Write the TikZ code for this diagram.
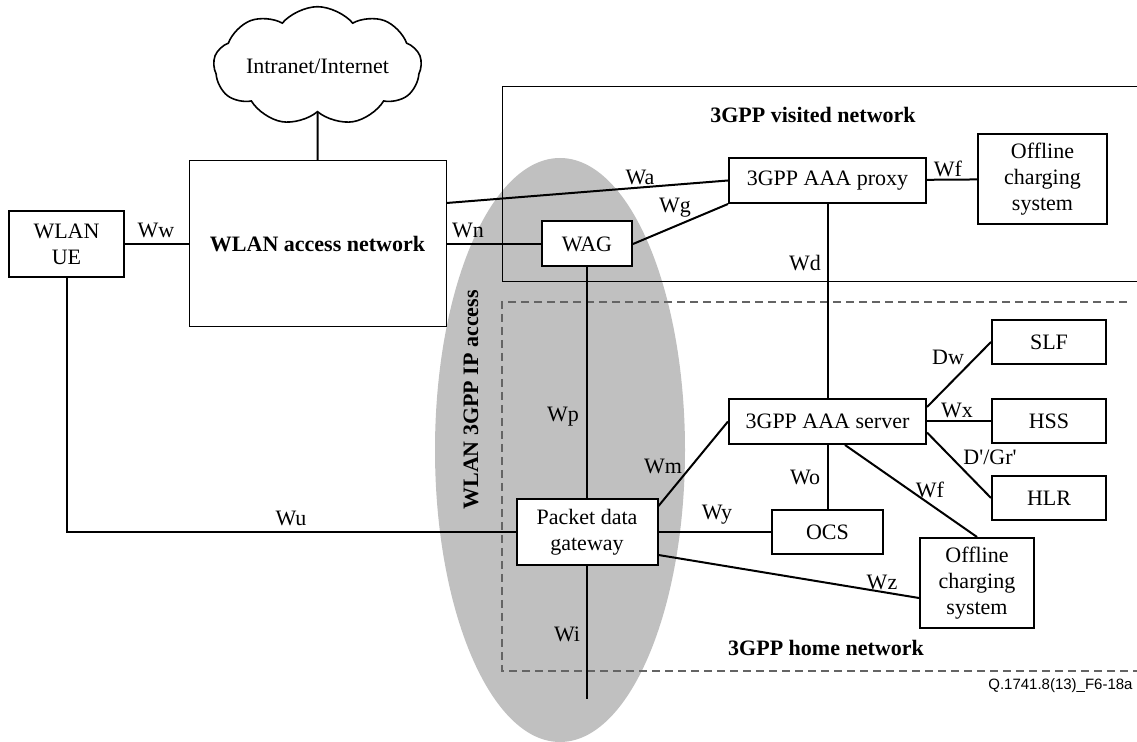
\documentclass[tikz,border=0pt]{standalone}
\usepackage{fontspec}
\setmainfont{Liberation Serif}
\newfontfamily\figfont{Liberation Sans}
\usetikzlibrary{shapes.symbols}
\definecolor{accessGray}{RGB}{192,192,192}
\definecolor{homeGray}{RGB}{100,100,100}

\begin{document}
\begin{tikzpicture}
[x=0.5pt,y=-0.5pt,
  font=\fontsize{11}{13}\selectfont,
  boxDecorate/.style={shape=rectangle,draw,line width=1pt,fill=white,inner sep=0pt,align=center},%
  smallBox/.style={boxDecorate,minimum width=57pt,minimum height=22pt},%
  lineDecorate/.style={-,line width=1pt},%
  labelDecorate/.style={inner sep=0pt},%
  titleDecorate/.style={inner sep=0pt,font=\fontsize{11}{13}\selectfont\bfseries}]
\useasboundingbox (0,0) rectangle (1137,742);
%% shaded WLAN 3GPP IP access area
\fill[accessGray] (560,450) ellipse [x radius=62.5pt,y radius=146pt];
%% network borders
\draw[line width=0.5pt] (1137,87) -- (502,87) -- (502,282) -- (1137,282);
\draw[homeGray,line width=0.6pt,dash pattern=on 4pt off 2.5pt] (1127,302) -- (502,302) -- (502,671) -- (1137,671);
%% nodes or vertices
\node (cloudNet) at (317.5,66) [shape=cloud,draw,line width=0.8pt,cloud puffs=9,cloud puff arc=100,aspect=2.2,minimum width=104pt,minimum height=46pt,inner sep=0pt] {Intranet/Internet};
\node (wlanUE) at (66.5,244) [boxDecorate,minimum width=57.5pt,minimum height=33pt] {WLAN\\UE};
\node (wlanAN) at (317.5,244) [boxDecorate,line width=0.5pt,minimum width=128.5pt,minimum height=83pt,font=\fontsize{11}{13}\selectfont\bfseries] {WLAN access network};
\node (wag) at (587,244) [boxDecorate,minimum width=45pt,minimum height=22.5pt] {WAG};
\node (aaaProxy) at (827.5,180.5) [boxDecorate,minimum width=98.5pt,minimum height=22.5pt] {3GPP AAA proxy};
\node (offlineVisited) at (1042.5,179) [boxDecorate,minimum width=64.5pt,minimum height=45pt] {Offline\\charging\\system};
\node (pdg) at (587,532) [boxDecorate,minimum width=70.5pt,minimum height=33pt] {Packet data\\gateway};
\node (aaaServer) at (827.5,421.5) [boxDecorate,minimum width=98.5pt,minimum height=22.5pt] {3GPP AAA server};
\node (ocs) at (827.5,532) [boxDecorate,minimum width=55.5pt,minimum height=22pt] {OCS};
\node (slf) at (1049,342) [smallBox] {SLF};
\node (hss) at (1049,421.5) [smallBox] {HSS};
\node (hlr) at (1049,498) [smallBox] {HLR};
\node (offlineHome) at (977,583) [boxDecorate,minimum width=57pt,minimum height=45pt] {Offline\\charging\\system};
\coordinate (wiEnd) at (587,699);
%% edges or lines
\path
(cloudNet) edge[lineDecorate] (wlanAN)
(wlanUE) edge[lineDecorate] (wlanAN)
(wlanAN) edge[lineDecorate] (wag)
([yshift=20.5pt]wlanAN.east) edge[lineDecorate] (aaaProxy.west)
(wag.east) edge[lineDecorate] (aaaProxy.south west)
(aaaProxy) edge[lineDecorate] (offlineVisited)
(aaaProxy) edge[lineDecorate] (aaaServer)
(wag) edge[lineDecorate] (pdg)
(pdg) edge[lineDecorate] (wiEnd)
([yshift=-4pt]pdg.north east) edge[lineDecorate] (aaaServer.west)
(pdg) edge[lineDecorate] (ocs)
([yshift=-11.5pt]pdg.east) edge[lineDecorate] ([yshift=-7.5pt]offlineHome.west)
(aaaServer) edge[lineDecorate] (ocs)
([xshift=8.75pt]aaaServer.south) edge[lineDecorate] (offlineHome.north)
([yshift=-4.5pt]aaaServer.north east) edge[lineDecorate] (slf.west)
(aaaServer) edge[lineDecorate] (hss)
([yshift=-5.5pt]aaaServer.east) edge[lineDecorate] (hlr.west);
\draw[lineDecorate] (wlanUE.south) |- (pdg.west);
%% interface labels
\node (lblWw) at (156,230) [labelDecorate] {Ww};
\node (lblWn) at (468,230) [labelDecorate] {Wn};
\node (lblWa) at (640,177) [labelDecorate] {Wa};
\node (lblWg) at (675,208) [labelDecorate] {Wg};
\node (lblWfVisited) at (948,169) [labelDecorate] {Wf};
\node (lblWd) at (805,263) [labelDecorate] {Wd};
\node (lblWp) at (563,417) [labelDecorate] {Wp};
\node (lblWu) at (291,518) [labelDecorate] {Wu};
\node (lblWm) at (663,466) [labelDecorate] {Wm};
\node (lblWy) at (717,515) [labelDecorate] {Wy};
\node (lblWo) at (805,477) [labelDecorate] {Wo};
\node (lblWfHome) at (930,490) [labelDecorate] {Wf};
\node (lblWz) at (882,582) [labelDecorate] {Wz};
\node (lblDw) at (948,357) [labelDecorate] {Dw};
\node (lblWx) at (957,410) [labelDecorate] {Wx};
\node (lblDGr) at (990,457) [labelDecorate] {D\textquotesingle/Gr\textquotesingle};
\node (lblWi) at (567,634) [labelDecorate] {Wi};
%% area titles
\node (visitedTitle) at (813,115) [titleDecorate] {3GPP visited network};
\node (homeTitle) at (826,648) [titleDecorate] {3GPP home network};
\node (accessTitle) at (471,400) [titleDecorate,rotate=90] {WLAN 3GPP IP access};
\node (figRef) at (1133,686) [anchor=east,inner sep=0pt,font=\figfont\fontsize{7.5}{9}\selectfont] {Q.1741.8(13)\_F6-18a};
\end{tikzpicture}
\end{document}
